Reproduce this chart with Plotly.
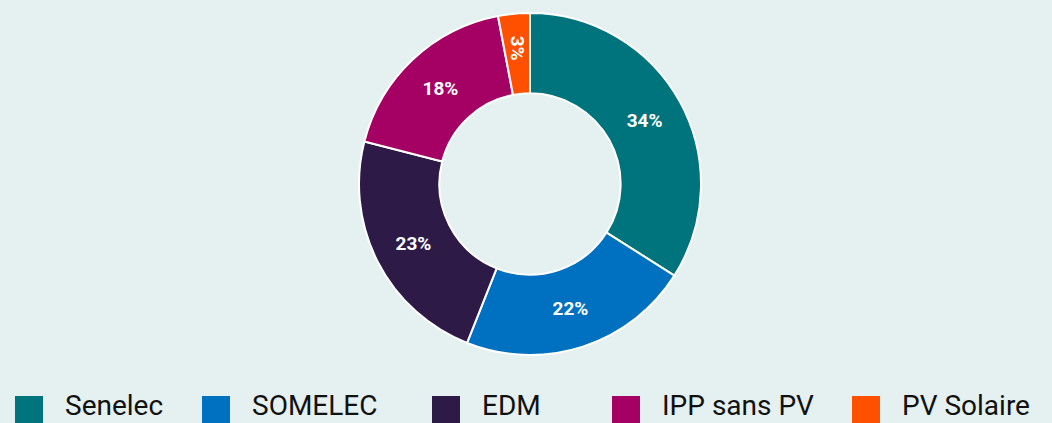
import math
import plotly.graph_objects as go

categories = ["Senelec", "SOMELEC", "EDM", "IPP sans PV", "PV Solaire"]
values = [34, 22, 23, 18, 3]
colors = ["#00747c", "#0070c0", "#2e1a47", "#a50064", "#ff5000"]

W, H = 1052, 423
cx, cy, r = 530, 184, 171
hole = 0.53
bg = "#e5f0f0"
dom = dict(x=[(cx - r) / W, (cx + r) / W], y=[(H - cy - r) / H, (H - cy + r) / H])
tfont = dict(family="Roboto", size=19, color="white", weight="bold")

fig = go.Figure(go.Pie(
    labels=categories,
    values=values,
    hole=hole,
    sort=False,
    direction="clockwise",
    rotation=0,
    marker=dict(colors=colors, line=dict(color="white", width=2)),
    texttemplate=["%{percent:.0%}" if v >= 10 else "" for v in values],
    textposition="inside",
    insidetextorientation="horizontal",
    textfont=tfont,
    domain=dom,
    showlegend=False,
    hoverinfo="label+percent",
))

annotations = []
# rotated label for the small slices, placed at slice mid-angle derived from values
total = sum(values)
cum = 0
rm = r * (1 + hole) / 2 + 6
for v in values:
    if v < 10:
        a = 2 * math.pi * (cum + v / 2) / total
        px = cx + rm * math.sin(a)
        py = cy - rm * math.cos(a)
        annotations.append(dict(text="%d%%" % round(100 * v / total), xref="paper", yref="paper",
                                x=px / W, y=(H - py) / H, xanchor="center", yanchor="middle",
                                textangle=90, showarrow=False, font=tfont))
    cum += v

# custom legend built from categories
legend_x = [15, 202, 432, 612, 852]
shapes = []
for cat, col, x0 in zip(categories, colors, legend_x):
    shapes.append(dict(type="rect", xref="paper", yref="paper",
                       x0=x0 / W, x1=(x0 + 28) / W,
                       y0=(H - 424) / H, y1=(H - 396) / H,
                       fillcolor=col, line=dict(width=0)))
    annotations.append(dict(text=cat, xref="paper", yref="paper",
                            x=(x0 + 48) / W, y=(H - 405) / H,
                            xanchor="left", yanchor="middle", showarrow=False,
                            font=dict(family="Roboto", size=28, color="#111111")))

fig.update_layout(
    width=W, height=H,
    margin=dict(l=0, r=0, t=0, b=0),
    paper_bgcolor=bg, plot_bgcolor=bg,
    shapes=shapes, annotations=annotations,
)

fig.write_html("out.html", config={"displayModeBar": False},
               post_script="document.body.style.margin='0';document.body.style.background='%s';" % bg)
